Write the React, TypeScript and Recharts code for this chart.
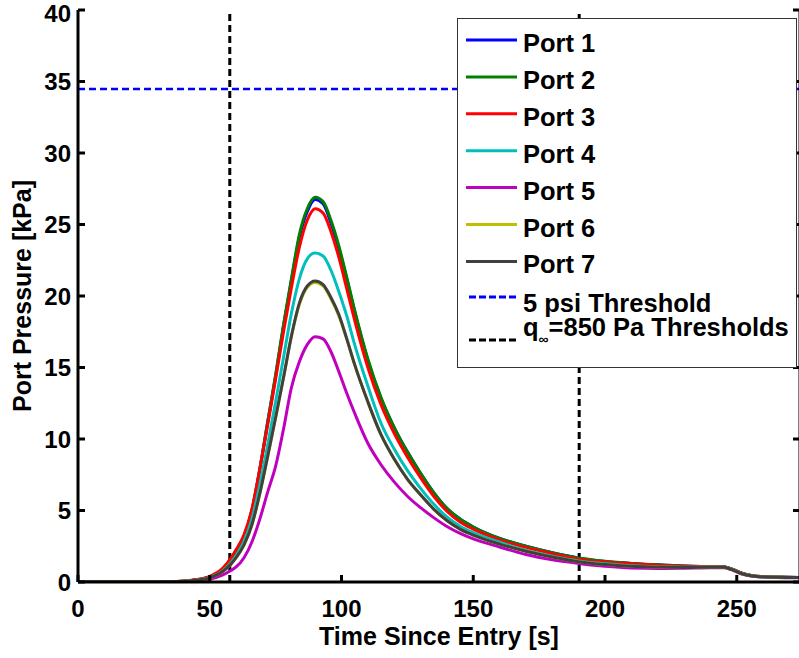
import React from 'react';
import { LineChart, Line, XAxis, YAxis, ReferenceLine, Legend } from 'recharts';

// time since entry [s]
const time = [0, 20, 35, 40, 45, 50, 55, 58, 60, 63, 66, 69, 72, 75, 78, 81, 84, 87, 90, 93, 96, 99, 102, 105, 110, 115, 120, 125, 130, 135, 140, 145, 150, 160, 170, 180, 190, 200, 210, 220, 230, 240, 245, 248, 252, 256, 260, 265, 274];

// port pressures [kPa]
const port1 = [0, 0, 0.02, 0.06, 0.15, 0.35, 0.9, 1.6, 2.2, 3.2, 5.0, 7.9, 11.2, 14.4, 17.9, 21.1, 24.1, 25.9, 26.75, 26.45, 25.1, 23.3, 21.2, 18.9, 15.5, 12.85, 10.8, 9.1, 7.6, 6.25, 5.15, 4.4, 3.85, 3.05, 2.5, 2.04, 1.67, 1.44, 1.3, 1.2, 1.12, 1.08, 1.06, 0.92, 0.62, 0.44, 0.38, 0.35, 0.32];
const port2 = [0, 0, 0.02, 0.06, 0.15, 0.35, 0.9, 1.6, 2.2, 3.2, 5.0, 7.9, 11.2, 14.5, 18.0, 21.2, 24.3, 26.1, 26.9, 26.6, 25.3, 23.5, 21.3, 19.0, 15.6, 12.9, 10.8, 9.1, 7.6, 6.25, 5.15, 4.4, 3.85, 3.05, 2.5, 2.05, 1.68, 1.45, 1.3, 1.2, 1.12, 1.08, 1.06, 0.92, 0.62, 0.44, 0.38, 0.35, 0.32];
const port3 = [0, 0, 0.02, 0.07, 0.17, 0.4, 0.98, 1.65, 2.25, 3.3, 5.1, 7.9, 11.0, 14.2, 17.5, 20.6, 23.4, 25.3, 26.1, 25.8, 24.5, 22.7, 20.5, 18.3, 15.0, 12.4, 10.4, 8.75, 7.3, 6.0, 4.95, 4.2, 3.7, 2.95, 2.42, 1.98, 1.6, 1.4, 1.27, 1.18, 1.1, 1.07, 1.05, 0.9, 0.6, 0.43, 0.37, 0.34, 0.31];
const port4 = [0, 0, 0.02, 0.05, 0.13, 0.32, 0.8, 1.35, 1.85, 2.85, 4.4, 6.8, 9.6, 12.6, 15.7, 18.8, 21.2, 22.6, 23.0, 22.8, 21.8, 20.3, 18.6, 16.6, 13.7, 11.1, 9.3, 7.8, 6.55, 5.45, 4.55, 3.9, 3.45, 2.78, 2.22, 1.8, 1.47, 1.27, 1.14, 1.07, 1.04, 1.03, 1.03, 0.88, 0.58, 0.42, 0.36, 0.33, 0.31];
const port5 = [0, 0, 0.01, 0.03, 0.08, 0.2, 0.5, 0.8, 1.05, 1.7, 2.8, 4.4, 6.3, 8.1, 10.7, 13.6, 15.4, 16.6, 17.15, 17.0, 16.1, 14.7, 13.2, 11.8, 9.7, 8.2, 7.0, 6.0, 5.2, 4.5, 3.88, 3.4, 3.02, 2.45, 1.92, 1.55, 1.3, 1.1, 0.98, 0.95, 0.97, 1.0, 1.0, 0.85, 0.55, 0.4, 0.35, 0.32, 0.3];
const port6 = [0, 0, 0.02, 0.05, 0.12, 0.3, 0.75, 1.25, 1.7, 2.6, 4.0, 6.2, 8.8, 11.5, 14.3, 17.2, 19.4, 20.6, 20.95, 20.7, 19.8, 18.6, 17.0, 15.2, 12.6, 10.3, 8.6, 7.2, 6.1, 5.1, 4.3, 3.7, 3.28, 2.65, 2.15, 1.75, 1.42, 1.22, 1.1, 1.05, 1.02, 1.03, 1.03, 0.88, 0.58, 0.42, 0.36, 0.33, 0.31];
const port7 = [0, 0, 0.02, 0.05, 0.12, 0.3, 0.75, 1.25, 1.7, 2.6, 4.0, 6.2, 8.8, 11.5, 14.3, 17.2, 19.5, 20.7, 21.05, 20.8, 19.9, 18.7, 17.0, 15.2, 12.6, 10.3, 8.6, 7.2, 6.1, 5.1, 4.3, 3.7, 3.28, 2.65, 2.15, 1.75, 1.42, 1.22, 1.1, 1.05, 1.02, 1.03, 1.03, 0.88, 0.58, 0.42, 0.36, 0.33, 0.31];

const portNames = ['Port 1', 'Port 2', 'Port 3', 'Port 4', 'Port 5', 'Port 6', 'Port 7'];
const portColors = ['#0000ff', '#008000', '#ff0000', '#00bfbf', '#bf00bf', '#bfbf00', '#404040'];

const xTicks = [0, 50, 100, 150, 200, 250];
const yTicks = [0, 5, 10, 15, 20, 25, 30, 35, 40];

const psiThreshold = 34.47; // 5 psi in kPa
const qThresholdTimes = [57.6, 190.2];

const series = [port1, port2, port3, port4, port5, port6, port7];
const data = time.map((t, i) => {
  const row: Record<string, number> = { t };
  series.forEach((s, k) => {
    row[`p${k + 1}`] = s[i];
  });
  return row;
});

const FONT = '"Liberation Sans", Arial, Helvetica, sans-serif';
const tickStyle = { fill: '#000', fontSize: 24, fontWeight: 'bold', fontFamily: FONT };
const axisStroke = { stroke: '#000', strokeWidth: 3 };
const LEG_FONT = 25.5;

function LegendBox() {
  return (
    <svg width={340} height={350} style={{ display: 'block' }}>
      <rect x={0.5} y={0.5} width={339} height={349} fill="#fff" stroke="#333" strokeWidth={1} />
      {portNames.map((name, i) => (
        <g key={name}>
          <line x1={9} x2={60} y1={22 + 36.9 * i} y2={22 + 36.9 * i} stroke={portColors[i]} strokeWidth={3} />
          <text x={66} y={34 + 36.9 * i} fontSize={LEG_FONT} fontWeight="bold" fontFamily={FONT} fill="#000">
            {name}
          </text>
        </g>
      ))}
      <line x1={12} x2={60} y1={279} y2={279} stroke="#0000ff" strokeWidth={3} strokeDasharray="7 3" />
      <text x={66} y={293.5} fontSize={LEG_FONT} fontWeight="bold" fontFamily={FONT} fill="#000">
        5 psi Threshold
      </text>
      <line x1={12} x2={60} y1={322} y2={322} stroke="#000" strokeWidth={3} strokeDasharray="7 3" />
      <text x={66} y={317.5} fontSize={LEG_FONT} fontWeight="bold" fontFamily={FONT} fill="#000">
        q<tspan dy={8} fontSize={14}>∞</tspan>
        <tspan dy={-8}>=850 Pa Thresholds</tspan>
      </text>
    </svg>
  );
}

export default function App() {
  return (
    <div style={{ position: 'absolute', left: 0, top: 0, width: 799, height: 658, overflow: 'hidden', background: '#fff' }}>
      <LineChart width={802} height={658} data={data} margin={{ top: 10, right: 0, bottom: 0, left: 0 }}>
        <XAxis
          dataKey="t"
          type="number"
          domain={[0, 274]}
          ticks={xTicks}
          allowDataOverflow
          height={76}
          tickSize={-7}
          tickMargin={25}
          tick={tickStyle}
          axisLine={axisStroke}
          tickLine={axisStroke}
          label={{ value: 'Time Since Entry [s]', position: 'insideBottom', offset: 13, fill: '#000', fontSize: 25, fontWeight: 'bold', fontFamily: FONT }}
        />
        <XAxis
          xAxisId="top"
          orientation="top"
          dataKey="t"
          type="number"
          domain={[0, 274]}
          ticks={xTicks}
          allowDataOverflow
          height={0}
          tickSize={-7}
          tickFormatter={() => ''}
          axisLine={axisStroke}
          tickLine={axisStroke}
        />
        <YAxis
          type="number"
          domain={[0, 40]}
          ticks={yTicks}
          allowDataOverflow
          width={78}
          tickSize={-7}
          tickMargin={14}
          tick={tickStyle}
          axisLine={axisStroke}
          tickLine={axisStroke}
          label={{
            content: (props: any) => {
              const vb = props.viewBox || { x: 0, y: 10, width: 78, height: 572 };
              const cx = vb.x + 22;
              const cy = vb.y + vb.height / 2;
              return (
                <text
                  x={cx}
                  y={cy}
                  transform={`rotate(-90, ${cx}, ${cy})`}
                  textAnchor="middle"
                  dominantBaseline="central"
                  fontSize={25}
                  fontWeight="bold"
                  fontFamily={FONT}
                  fill="#000"
                >
                  Port Pressure [kPa]
                </text>
              );
            },
          }}
        />
        <YAxis
          yAxisId="right"
          orientation="right"
          type="number"
          domain={[0, 40]}
          ticks={yTicks}
          allowDataOverflow
          width={2}
          tickSize={-7}
          tickFormatter={() => ''}
          axisLine={axisStroke}
          tickLine={axisStroke}
        />
        <ReferenceLine yAxisId="right" y={psiThreshold} stroke="#0000ff" strokeWidth={2.5} strokeDasharray="7 4" />
        {qThresholdTimes.map((t) => (
          <ReferenceLine key={t} x={t} stroke="#000" strokeWidth={3} strokeDasharray="7 4" />
        ))}
        {portNames.map((name, i) => (
          <Line
            key={name}
            name={name}
            type="monotone"
            dataKey={`p${i + 1}`}
            stroke={portColors[i]}
            strokeWidth={3}
            dot={false}
            isAnimationActive={false}
          />
        ))}
        <Legend
          layout="vertical"
          align="center"
          verticalAlign="middle"
          wrapperStyle={{ left: 457, top: 18, width: 340, height: 350 }}
          content={() => <LegendBox />}
        />
      </LineChart>
    </div>
  );
}
